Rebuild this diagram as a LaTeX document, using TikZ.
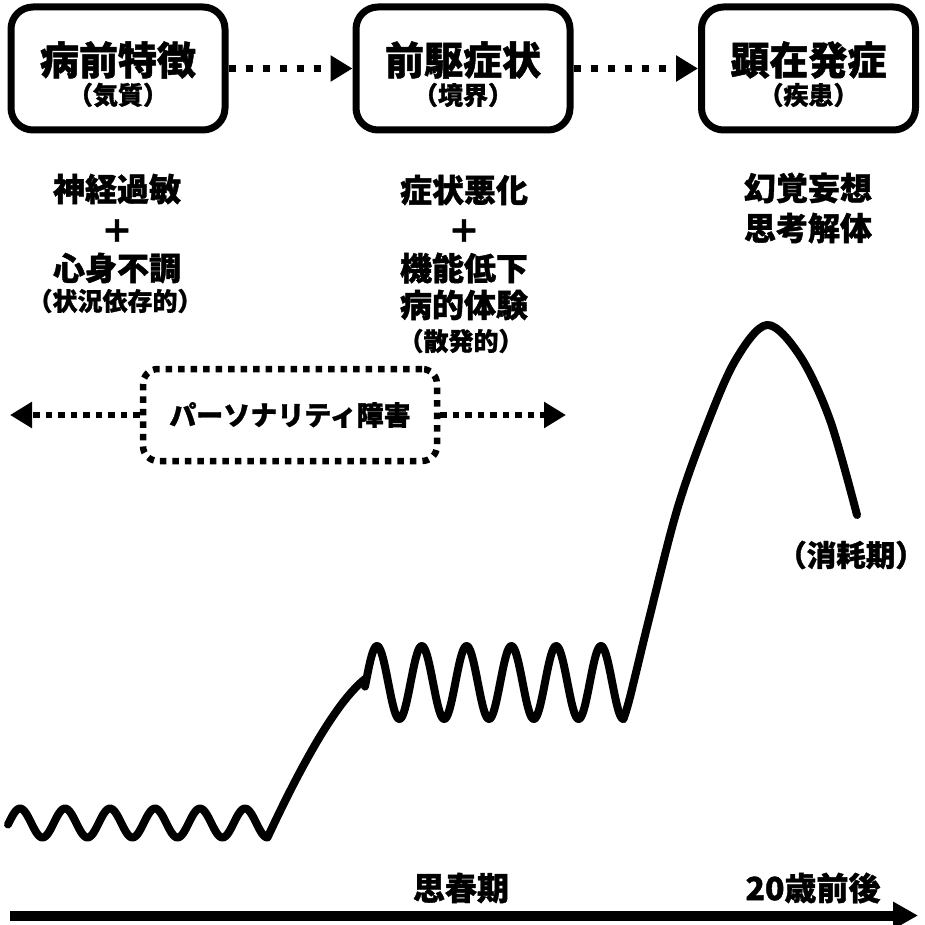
\documentclass[tikz,border=0pt]{standalone}
\usepackage{fontspec}
\newfontfamily\jp{Noto Sans CJK JP}[BoldFeatures={FakeBold=1.2}]
\usetikzlibrary{arrows.meta}
\tikzset{
  box/.style={draw, line width=7pt, rounded corners=22pt, minimum width=214pt, minimum height=123pt, inner sep=0pt},
  ttl/.style={font=\jp\bfseries\fontsize{39}{41}\selectfont, inner sep=0pt},
  subt/.style={font=\jp\bfseries\fontsize{25}{27}\selectfont, inner sep=0pt},
  lbl/.style={font=\jp\bfseries\fontsize{32}{34}\selectfont, inner sep=0pt},
  pers/.style={font=\jp\bfseries\fontsize{27}{29}\selectfont},
  dotline/.style={line width=7pt, dash pattern=on 7pt off 10pt},
  dotfine/.style={line width=6.5pt, dash pattern=on 6.5pt off 6pt},
  tipr/.style={-{Triangle[length=22pt,width=25pt]}},
  curve/.style={line width=8pt, line cap=round, line join=round},
}
\begin{document}
\begin{tikzpicture}[x=1pt,y=-1pt]
\useasboundingbox (0,0) rectangle (924,925);
% top boxes
\node[box] (b1) at (118,68.5) {};
\node[box] (b2) at (463,68.5) {};
\node[box] (b3) at (808.5,68.5) {};
\node[ttl] (t1) at (118,60) {病前特徴};
\node[subt] (s1) at (118,95) {（気質）};
\node[ttl] (t2) at (463,60) {前駆症状};
\node[subt] (s2) at (463,95) {（境界）};
\node[ttl] (t3) at (808.5,60) {顕在発症};
\node[subt] (s3) at (808.5,95) {（疾患）};
\draw[dotline,tipr] (b1) -- (b2);
\draw[dotline,tipr] (b2) -- (b3);
% left column
\node[lbl] (l1) at (117,189) {神経過敏};
\node[lbl] (l2) at (117,231) {＋};
\node[lbl] (l3) at (117,268) {心身不調};
\node[subt] (l4) at (115,301) {（状況依存的）};
% middle column
\node[lbl] (m1) at (464,190) {症状悪化};
\node[lbl] (m2) at (464,231) {＋};
\node[lbl] (m3) at (464,268) {機能低下};
\node[lbl] (m4) at (464,305) {病的体験};
\node[subt] (m5) at (461,341) {（散発的）};
% right column
\node[lbl] (r1) at (808,188) {幻覚妄想};
\node[lbl] (r2) at (808,228) {思考解体};
% personality disorder
\node[pers, draw, dotfine, rounded corners=15pt, minimum width=294pt, minimum height=92pt, inner sep=0pt] (pd) at (290,415) {パーソナリティ障害};
\coordinate (pl) at (10,415);
\coordinate (pr) at (566,415);
\draw[dotfine,tipr] (pd.west) -- (pl);
\draw[dotfine,tipr] (pd.east) -- (pr);
% curves
\draw[curve] plot[domain=8:267.5, samples=240] (\x, {823 - 14.5*sin(8*(\x-8.75))})
  .. controls (300,768) and (335,703) .. (365,679);
\draw[curve] plot[domain=365:623.4, samples=300] (\x, {682.5 - 36.5*sin(8.0357*(\x-365.8))});
\draw[curve] plot[smooth, tension=0.55] coordinates {(623.4,719) (630,697) (650,615) (677,510) (705,430) (735,361) (767,325) (800,356) (830,420) (857,515)};
\node[lbl, font=\jp\bfseries\fontsize{29.5}{31}\selectfont] (cons) at (851,555) {（消耗期）};
% axis
\coordinate (a0) at (10,915.5);
\coordinate (a1) at (918,915.5);
\draw[line width=10pt, -{Triangle[length=25pt,width=26pt]}] (a0) -- (a1);
\node[lbl] (p1) at (461,888) {思春期};
\node[lbl] (p2) at (813,888) {20歳前後};
\end{tikzpicture}
\end{document}
